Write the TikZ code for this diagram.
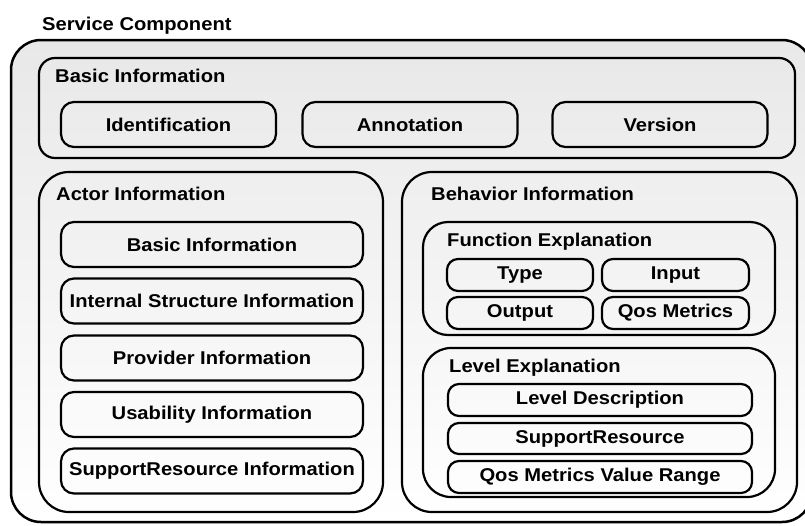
\documentclass[tikz,border=0pt]{standalone}
\usepackage{fontspec}
\setmainfont{Liberation Sans}[FakeStretch=1.09]
\begin{document}
\begin{tikzpicture}[x=1pt,y=-1pt,
  boxline/.style={draw=black,line width=2.2pt},
  cont/.style={boxline,rounded corners=#1},
  itembox/.style={boxline,rounded corners=13pt,inner sep=0pt,font=\fontsize{18.5}{20}\selectfont\bfseries},
  lbl/.style={anchor=base west,inner sep=0pt,font=\fontsize{18.5}{20}\selectfont\bfseries}]
\useasboundingbox (0,0) rectangle (805,525);
\begin{scope}
\clip (0,0) rectangle (805,525);
\shade[top color=black!9,bottom color=white] (11,40) [rounded corners=30pt] rectangle (812,522);
\draw[boxline,line width=2.5pt,rounded corners=30pt] (11,40) rectangle (812,522);
\end{scope}
\node[lbl] (title) at (42,30) {Service Component};
% Basic information
\draw[cont=16pt] (39,58) rectangle (795,158);
\node[lbl] (basic) at (55,82) {Basic Information};
\node[itembox,minimum width=215pt,minimum height=45pt] (ident) at (168.5,124.5) {Identification};
\node[itembox,minimum width=215pt,minimum height=45pt] (annot) at (410,124.5) {Annotation};
\node[itembox,minimum width=215pt,minimum height=45pt] (vers) at (660,124.5) {Version};
% Actor information
\draw[cont=30pt] (39,172) rectangle (383,512);
\node[lbl] (actor) at (56,200) {Actor Information};
\node[itembox,minimum width=302pt,minimum height=45pt] (abasic) at (212,244.5) {Basic Information};
\node[itembox,minimum width=302pt,minimum height=45pt] (aint) at (212,301) {Internal Structure Information};
\node[itembox,minimum width=302pt,minimum height=45pt] (aprov) at (212,358) {Provider Information};
\node[itembox,minimum width=302pt,minimum height=45pt] (ausab) at (212,414.5) {Usability Information};
\node[itembox,minimum width=302pt,minimum height=45pt] (asupp) at (212,471) {SupportResource Information};
% Behavior information
\draw[cont=30pt] (402,172) rectangle (797,512);
\node[lbl] (behav) at (431,200) {Behavior Information};
\draw[cont=25pt] (423,222) rectangle (775,335);
\node[lbl] (func) at (447,246) {Function Explanation};
\node[itembox,rounded corners=11pt,minimum width=146pt,minimum height=32pt] (type) at (520,275) {Type};
\node[itembox,rounded corners=11pt,minimum width=147pt,minimum height=32pt] (input) at (675.5,275) {Input};
\node[itembox,rounded corners=11pt,minimum width=146pt,minimum height=32pt] (output) at (520,313) {Output};
\node[itembox,rounded corners=11pt,minimum width=147pt,minimum height=32pt] (qos) at (675.5,313) {Qos Metrics};
\draw[cont=28pt] (423,348) rectangle (775,497);
\node[lbl] (level) at (449,372) {Level Explanation};
\node[itembox,rounded corners=11pt,minimum width=304pt,minimum height=32pt] (ldesc) at (600,400) {Level Description};
\node[itembox,rounded corners=11pt,minimum width=304pt,minimum height=31pt] (lsupp) at (600,438.5) {SupportResource};
\node[itembox,rounded corners=11pt,minimum width=304pt,minimum height=32pt] (lrange) at (600,477) {Qos Metrics Value Range};
\end{tikzpicture}
\end{document}
